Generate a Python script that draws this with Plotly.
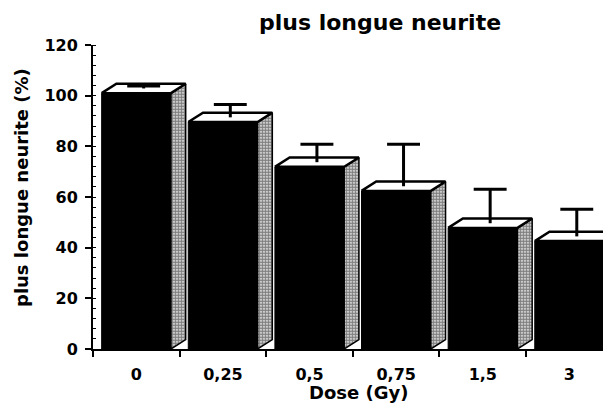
import plotly.graph_objects as go

categories = ["0", "0,25", "0,5", "0,75", "1,5", "3"]
values = [101.0, 89.6, 71.9, 62.4, 47.8, 42.6]
errors = [1.0, 5.1, 7.1, 16.6, 13.4, 10.7]
y_ticks = [0, 20, 40, 60, 80, 100, 120]

BAR_W = 0.8
DX = 0.17
DY = 3.7
CAP = 0.19
FONT = "DejaVu Sans"

# page body has an 8px margin; figure is sized to fit the 611x408 window
W, H = 603, 400
L, T, PW, PH = 85, 37, 518, 304
B = H - T - PH


def px_x(px):
    return (px - 8 - L) / PW


def px_y(py):
    return (H - (py - 8) - B) / PH


xs = list(range(len(categories)))
fig = go.Figure()

# front faces
fig.add_trace(go.Bar(x=xs, y=values, width=BAR_W,
                     marker=dict(color="black", line=dict(color="black", width=1)),
                     showlegend=False, hoverinfo="skip"))

# side faces (stippled) and top faces (white)
for x, v in zip(xs, values):
    x1 = x + BAR_W / 2
    x0 = x - BAR_W / 2
    fig.add_trace(go.Scatter(
        x=[x1, x1 + DX, x1 + DX, x1, x1], y=[0, DY, v + DY, v, 0],
        mode="lines", fill="toself", line=dict(color="black", width=1.5),
        fillcolor="white",
        fillpattern=dict(shape=".", fgcolor="black", bgcolor="white", size=3, solidity=0.75),
        showlegend=False, hoverinfo="skip"))
    fig.add_trace(go.Scatter(
        x=[x0, x1, x1 + DX, x0 + DX, x0], y=[v, v, v + DY, v + DY, v],
        mode="lines", fill="toself", fillcolor="white", line=dict(color="black", width=2.5),
        showlegend=False, hoverinfo="skip"))

# error bars (upper only) from the top-face centre
ex, ey = [], []
for x, v, e in zip(xs, values, errors):
    xc = x + DX / 2
    yb = v + DY / 2
    ex += [xc, xc, None, xc - CAP, xc + CAP, None]
    ey += [yb, yb + e, None, yb + e, yb + e, None]
fig.add_trace(go.Scatter(x=ex, y=ey, mode="lines", line=dict(color="black", width=3),
                         showlegend=False, hoverinfo="skip"))

fig.update_layout(
    width=W, height=H,
    margin=dict(l=L, r=W - L - PW, t=T, b=B),
    plot_bgcolor="white", paper_bgcolor="white",
    font=dict(family=FONT, color="black", size=15, weight="bold"),
    xaxis=dict(range=[-0.5, 5.48], tickvals=xs, ticktext=categories, ticks="",
               showline=True, linecolor="black", linewidth=2, showgrid=False, zeroline=False,
               ticklabelstandoff=10,
               tickfont=dict(family=FONT, size=16, weight="bold"),
               minor=dict(tickmode="linear", tick0=-0.5, dtick=1, ticks="outside", ticklen=6,
                          tickwidth=2, tickcolor="black")),
    yaxis=dict(range=[0, 120], tickvals=y_ticks, ticks="outside", ticklen=6, tickwidth=2,
               tickcolor="black", showline=True, linecolor="black", linewidth=2,
               showgrid=False, zeroline=False, ticklabelstandoff=4,
               tickfont=dict(family=FONT, size=16, weight="bold"),
               minor=dict(dtick=4, ticks="inside", ticklen=3, tickwidth=1, tickcolor="black")),
    annotations=[
        dict(text="plus longue neurite", x=px_x(380), y=px_y(23),
             xref="paper", yref="paper", showarrow=False, xanchor="center", yanchor="middle",
             font=dict(family=FONT, size=22, weight="bold")),
        dict(text="Dose (Gy)", x=px_x(358), y=px_y(392),
             xref="paper", yref="paper", showarrow=False, xanchor="center", yanchor="middle",
             font=dict(family=FONT, size=18, weight="bold")),
        dict(text="plus longue neurite (%)", x=px_x(21), y=px_y(188),
             xref="paper", yref="paper", showarrow=False, xanchor="center", yanchor="middle",
             textangle=-90, font=dict(family=FONT, size=18, weight="bold")),
    ],
)

fig.write_html("out.html")
